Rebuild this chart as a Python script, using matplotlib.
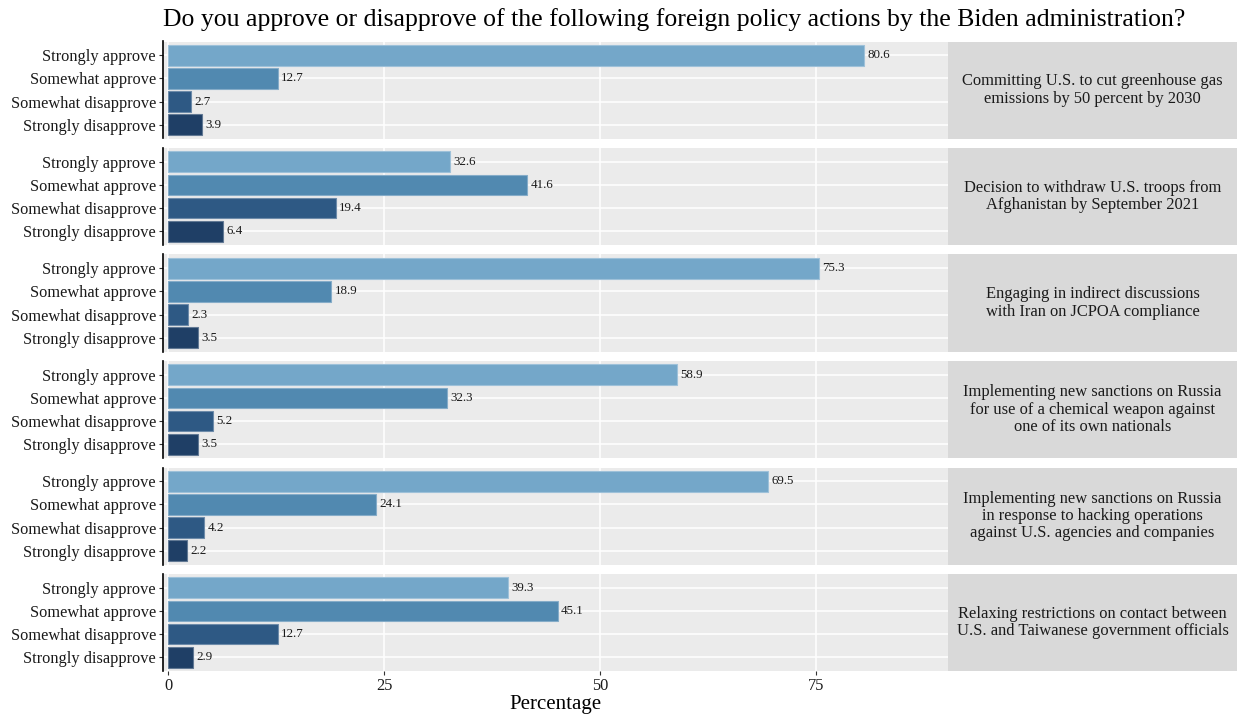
import matplotlib
matplotlib.use("Agg")
import matplotlib.pyplot as plt
import matplotlib.colors as mcolors
import numpy as np

plt.rcParams['font.family'] = ['Liberation Serif', 'DejaVu Serif']

responses = ["Strongly approve", "Somewhat approve", "Somewhat disapprove", "Strongly disapprove"]
actions = [
    "Committing U.S. to cut greenhouse gas\nemissions by 50 percent by 2030",
    "Decision to withdraw U.S. troops from\nAfghanistan by September 2021",
    "Engaging in indirect discussions\nwith Iran on JCPOA compliance",
    "Implementing new sanctions on Russia\nfor use of a chemical weapon against\none of its own nationals",
    "Implementing new sanctions on Russia\nin response to hacking operations\nagainst U.S. agencies and companies",
    "Relaxing restrictions on contact between\nU.S. and Taiwanese government officials",
]
climate = [80.6, 12.7, 2.7, 3.9]
afghanistan = [32.6, 41.6, 19.4, 6.4]
iran = [75.3, 18.9, 2.3, 3.5]
russia_chem = [58.9, 32.3, 5.2, 3.5]
russia_hack = [69.5, 24.1, 4.2, 2.2]
taiwan = [39.3, 45.1, 12.7, 2.9]
values = [climate, afghanistan, iran, russia_chem, russia_hack, taiwan]

colors = ["#74A7C9", "#5189B0", "#2E5984", "#1F3F66"]
edges = [mcolors.to_hex(0.7 * np.array(mcolors.to_rgb(c)) + 0.3) for c in colors]

W, H = 1239, 719
fig = plt.figure(figsize=(W / 100, H / 100), dpi=100)

panel_tops = [41.5 + 106.5 * i for i in range(6)]
panel_h = 97
px_left, px_right = 163, 948
strip_right = 1237
x0_px, px_per_unit = 168, 8.64

for i, (top, vals, act) in enumerate(zip(panel_tops, values, actions)):
    bottom = H - top - panel_h
    ax = fig.add_axes([px_left / W, bottom / H, (px_right - px_left) / W, panel_h / H])
    ax.set_facecolor("#EBEBEB")
    ypos = np.arange(len(responses))[::-1]
    ax.barh(ypos, vals, height=0.9, color=colors, edgecolor=edges, linewidth=0.8, zorder=3)
    for y, v in zip(ypos, vals):
        ax.text(v + 0.4, y, f"{v}", va="center", ha="left", fontsize=9.4, color="#1A1A1A", zorder=4)
    ax.set_xlim((px_left - x0_px) / px_per_unit, (px_right - x0_px) / px_per_unit)
    ax.set_ylim(-0.6, 3.6)
    ax.set_yticks(ypos)
    ax.set_yticklabels(responses, fontsize=11.8, color="#1A1A1A")
    ax.set_xticks([0, 25, 50, 75])
    ax.grid(True, color="white", linewidth=1.1, zorder=0)
    ax.set_axisbelow(True)
    for s in ["top", "right", "bottom"]:
        ax.spines[s].set_visible(False)
    ax.spines["left"].set_color("black")
    ax.spines["left"].set_linewidth(1.2)
    ax.tick_params(axis="y", length=3, color="#333333", pad=2)
    if i == len(panel_tops) - 1:
        ax.spines["bottom"].set_color("black")
        ax.spines["bottom"].set_linewidth(1.2)
        ax.tick_params(axis="x", length=3, color="#333333", labelsize=11.8, labelcolor="#1A1A1A", pad=2)
        ax.set_xlabel("Percentage", fontsize=15, labelpad=1)
    else:
        ax.tick_params(axis="x", length=0, labelbottom=False)

    sax = fig.add_axes([px_right / W, bottom / H, (strip_right - px_right) / W, panel_h / H])
    sax.set_facecolor("#D9D9D9")
    sax.set_xticks([])
    sax.set_yticks([])
    for s in sax.spines.values():
        s.set_visible(False)
    sax.text(0.5, 0.5, act, ha="center", va="center", fontsize=11.9, color="#1A1A1A",
             transform=sax.transAxes, linespacing=1.1)

fig.text(674 / W, 1 - 20 / H, "Do you approve or disapprove of the following foreign policy actions by the Biden administration?",
         ha="center", va="center", fontsize=18.5, color="black")

fig.savefig("out.png", dpi=100, facecolor="white")
